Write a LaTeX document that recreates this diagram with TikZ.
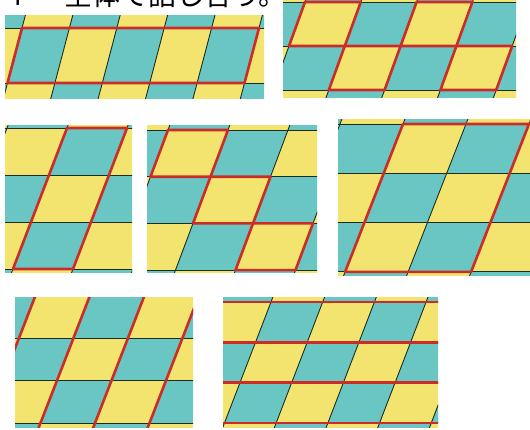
\documentclass[tikz,border=0pt]{standalone}
\usepackage{fontspec}
\newfontfamily\jp{Noto Sans CJK JP}
\usepackage{tikz}
\definecolor{ylw}{RGB}{243,228,112}
\definecolor{tql}{RGB}{106,198,194}
\definecolor{rd}{RGB}{204,44,40}
\definecolor{gln}{RGB}{28,44,34}

% #1 clip, #2 ox, #3 oy, #4 cell width, #5 row height, #6 shear, #7 parity, #8 red lines
\newcommand{\tiling}[8]{%
  \begin{scope}
    \clip #1;
    \def\ox{#2}\def\oy{#3}\def\cw{#4}\def\rh{#5}\def\sh{#6}
    \foreach \i in {-4,...,6}{\foreach \j in {-2,...,4}{
      \pgfmathtruncatemacro\pty{mod(\i+\j+#7+20,2)}
      \ifnum\pty=0 \def\col{ylw}\else\def\col{tql}\fi
      \fill[fill=\col] ({\ox+\i*\cw-\j*\sh},{\oy+\j*\rh}) -- ++(\cw,0) -- ++(-\sh,\rh) -- ++(-\cw,0) -- cycle;}}
    \foreach \j in {-2,...,4} \draw[gl] ({\ox-12*\cw},{\oy+\j*\rh}) -- ++({24*\cw},0);
    \foreach \i in {-6,...,8} \draw[gl] ({\ox+\i*\cw+3*\sh},{\oy-3*\rh}) -- ++({-8*\sh},{8*\rh});
    #8
  \end{scope}}
\newcommand{\redbox}[4]{\draw[rl] ({\ox+#1*\cw-#2*\sh},{\oy+#2*\rh}) -- ++({#3*\cw},0) -- ++({-#4*\sh},{#4*\rh}) -- ++({-#3*\cw},0) -- cycle;}

\begin{document}
\begin{tikzpicture}[x=1pt,y=-1pt,
  gl/.style={draw=gln,line width=0.9pt},
  rl/.style={draw=rd,line width=2.6pt,line join=round},
  ttl/.style={font=\jp\fontsize{28}{30}\selectfont,anchor=base west,inner sep=0pt}]
 \clip (0,0) rectangle (530,429);
 \node[ttl] (num) at (7,5) {4};
 \node[ttl] (head) at (64,5) {全体で話し合う。};
 \tiling{(5,15) rectangle (264,98)}{22}{28}{47.4}{55}{14.5}{1}{\redbox{0}{0}{5}{1}}
 \tiling{(283,0) rectangle (516,97)}{305}{2}{55.8}{44}{16}{0}{\redbox{0}{0}{1}{1}\redbox{2}{0}{1}{1}\redbox{1}{1}{1}{1}\redbox{3}{1}{1}{1}}
 \tiling{(5,125) rectangle (132,272)}{67}{128}{60}{47}{18}{1}{\redbox{0}{0}{1}{3}}
 \tiling{(147,125) rectangle (317,272)}{168}{130}{60}{46.7}{17.5}{0}{\redbox{0}{0}{1}{1}\redbox{1}{1}{1}{1}\redbox{2}{2}{1}{1}}
 \tiling{(338,119) rectangle (530,275)}{403}{124}{63}{49.3}{19.3}{0}{\redbox{0}{0}{2}{3}}
 \tiling{(15,297) rectangle (193,427)}{73.5}{338}{54.5}{42.5}{16.5}{0}{\foreach \i in {-6,...,8} \draw[rl] ({\ox+\i*\cw+3*\sh},{\oy-3*\rh}) -- ++({-8*\sh},{8*\rh});}
 \tiling{(223,297) rectangle (438,427)}{271}{302}{51.7}{40.3}{15.5}{1}{\foreach \j in {-2,...,4} \draw[rl] ({\ox-12*\cw},{\oy+\j*\rh}) -- ++({24*\cw},0);}
\end{tikzpicture}
\end{document}
